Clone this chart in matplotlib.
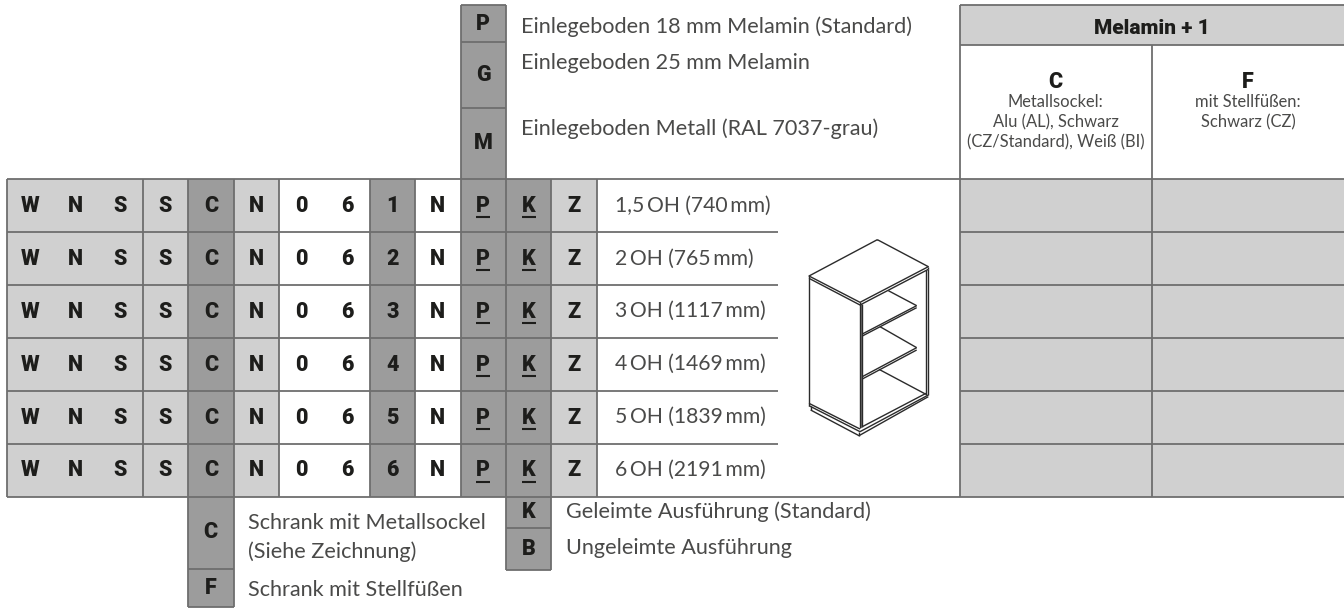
from matplotlib import pyplot as plt
from matplotlib.patches import Rectangle

codes = ['WNSSCN061NPKZ', 'WNSSCN062NPKZ', 'WNSSCN063NPKZ', 'WNSSCN064NPKZ', 'WNSSCN065NPKZ', 'WNSSCN066NPKZ']
heights = ['1,5\u2009OH (740\u2009mm)', '2\u2009OH (765\u2009mm)', '3\u2009OH (1117\u2009mm)',
           '4\u2009OH (1469\u2009mm)', '5\u2009OH (1839\u2009mm)', '6\u2009OH (2191\u2009mm)']
shelves = ['P', 'G', 'M']
shelf_text = ['Einlegeboden 18 mm Melamin (Standard)', 'Einlegeboden 25 mm Melamin', 'Einlegeboden Metall (RAL 7037-grau)']
glue = ['K', 'B']
glue_text = ['Geleimte Ausführung (Standard)', 'Ungeleimte Ausführung']
base = ['C', 'F']
base_text = ['Schrank mit Metallsockel\n(Siehe Zeichnung)', 'Schrank mit Stellfüßen']
header = 'Melamin + 1'
col_c = ['Metallsockel:', 'Alu (AL), Schwarz', '(CZ/Standard), Weiß (BI)']
col_f = ['mit Stellfüßen:', 'Schwarz (CZ)']

LIGHT = '#d0d0d0'
DARK = '#9c9c9c'
LINE = '#6e6e6e'
INK = '#1d1d1b'
BODY = '#4a4a49'
BOLD = dict(family='Roboto', weight='black', color=INK, ha='center', va='center')
THIN = dict(family='Lato', weight='normal', color=BODY, va='center')
LETTER = 15.5
TEXT = 15.6

fig = plt.figure(figsize=(13.44, 6.08), dpi=100)
ax = fig.add_axes([0, 0, 1, 1])
ax.set_xlim(0, 1344)
ax.set_ylim(608, 0)
ax.axis('off')

xs = [7, 52.3, 97.7, 142.7, 188.2, 233.5, 279, 324.5, 369.7, 415, 460.7, 506, 551.3, 596.5]
ys = [179, 232, 285, 337.7, 390.5, 443.5, 496.5]
fills = [LIGHT] * 4 + [DARK, LIGHT, 'white', 'white', DARK, 'white', DARK, DARK, LIGHT]
no_divider = [52.3, 97.7, 324.5]


def box(x0, y0, x1, y1, color):
    ax.add_patch(Rectangle((x0, y0), x1 - x0, y1 - y0, facecolor=color, edgecolor='none', zorder=1))


def line(x, y, lw=1.3, color=LINE):
    ax.plot(x, y, color=color, lw=lw, solid_capstyle='butt', zorder=3)


# code table
for r, code in enumerate(codes):
    for c, ch in enumerate(code):
        box(xs[c], ys[r], xs[c + 1], ys[r + 1], fills[c])
        cx = (xs[c] + xs[c + 1]) / 2
        cy = (ys[r] + ys[r + 1]) / 2
        ax.text(cx, cy + 0.5, ch, fontsize=LETTER, zorder=4, **BOLD)
        if ch in 'PK':
            line([cx - 7, cx + 7], [cy + 11.5, cy + 11.5], lw=1.5, color=INK)
    ax.text(615, (ys[r] + ys[r + 1]) / 2, heights[r], fontsize=15.2, zorder=4, **THIN)

for x in xs:
    if x not in no_divider:
        line([x, x], [ys[0], ys[-1]])
for y in ys[1:-1]:
    line([xs[0], 778], [y, y])
    line([959.5, 1344], [y, y])
line([xs[0], 1344], [ys[0], ys[0]])
line([xs[0], 1344], [ys[-1], ys[-1]])

# shelf options above the table
shelf_y = [5, 42, 107.5, 179]
shelf_ty = [27, 63, 129]
for i, s in enumerate(shelves):
    box(460.7, shelf_y[i], 506, shelf_y[i + 1], DARK)
    line([460.7, 506], [shelf_y[i], shelf_y[i]])
    ax.text(483.3, (shelf_y[i] + shelf_y[i + 1]) / 2, s, fontsize=LETTER, zorder=4, **BOLD)
    ax.text(521, shelf_ty[i], shelf_text[i], fontsize=TEXT, zorder=4, **THIN)
line([460.7, 460.7], [5, 179])
line([506, 506], [5, 179])

# base options below the table
base_y = [496.5, 568.5, 607]
base_ty = [537.5, 590]
for i, s in enumerate(base):
    box(188.2, base_y[i], 233.5, base_y[i + 1], DARK)
    line([188.2, 233.5], [base_y[i + 1], base_y[i + 1]])
    ax.text(210.8, (base_y[i] + base_y[i + 1]) / 2, s, fontsize=LETTER, zorder=4, **BOLD)
    ax.text(248, base_ty[i], base_text[i], fontsize=TEXT, linespacing=1.45, zorder=4, **THIN)
line([188.2, 188.2], [496.5, 607])
line([233.5, 233.5], [496.5, 607])

# glue options below the table
glue_y = [496.5, 527.5, 570]
glue_ty = [512, 548]
for i, s in enumerate(glue):
    box(506, glue_y[i], 551.3, glue_y[i + 1], DARK)
    line([506, 551.3], [glue_y[i + 1], glue_y[i + 1]])
    ax.text(528.6, (glue_y[i] + glue_y[i + 1]) / 2, s, fontsize=LETTER, zorder=4, **BOLD)
    ax.text(566.5, glue_ty[i], glue_text[i], fontsize=TEXT, zorder=4, **THIN)
line([506, 506], [496.5, 570])
line([551.3, 551.3], [496.5, 570])

# right hand table
box(959.5, 5, 1344, 45, LIGHT)
box(959.5, 179, 1344, 496.5, LIGHT)
line([959.5, 1344], [5, 5])
line([959.5, 1344], [45, 45])
line([959.5, 959.5], [5, 496.5])
line([1152, 1152], [45, 496.5])
ax.text(1152, 28, header, fontsize=15, zorder=4, **BOLD)
ax.text(1055.5, 82, 'C', fontsize=LETTER, zorder=4, **BOLD)
ax.text(1248, 82, 'F', fontsize=LETTER, zorder=4, **BOLD)
for i, t in enumerate(col_c):
    ax.text(1055.5, 102 + i * 20, t, fontsize=11.9, ha='center', family='Lato', color=BODY, va='center', zorder=4)
for i, t in enumerate(col_f):
    ax.text(1248, 102 + i * 20, t, fontsize=11.9, ha='center', family='Lato', color=BODY, va='center', zorder=4)

# cabinet drawing, points read in a 3x crop at (780, 225)
cabinet = [
    ([292, 445, 240, 87, 292], [44, 125, 232, 153, 44], 1.0),
    ([87, 240, 445], [160, 240, 133], 1.0),
    ([87, 87], [153, 160], 1.0),
    ([445, 445], [125, 133], 1.0),
    ([88, 88], [160, 535], 1.0),
    ([240, 240], [232, 610], 1.0),
    ([247, 247], [238, 605], 1.0),
    ([438, 438], [135, 510], 1.0),
    ([445, 445], [133, 510], 1.0),
    ([87, 240], [535, 612], 1.0),
    ([87, 240], [542, 620], 1.0),
    ([87, 87], [535, 542], 1.0),
    ([92, 237, 445], [555, 632, 515], 1.0),
    ([92, 92], [542, 555], 1.0),
    ([237, 237], [620, 632], 1.0),
    ([247, 438], [605, 505], 1.0),
    ([240, 445], [620, 510], 1.0),
    ([325, 410], [197, 242], 1.0),
    ([247, 410], [327, 242], 1.0),
    ([247, 410], [333, 248], 1.0),
    ([300, 410], [305, 368], 1.0),
    ([247, 410], [455, 368], 1.0),
    ([247, 410], [462, 375], 1.0),
    ([297, 438], [433, 508], 1.0),
]
for px, py, lw in cabinet:
    line([780 + v / 3 for v in px], [225 + v / 3 for v in py], lw=lw, color='#2b2b2b')
box(780 + 240 / 3, 225 + 236 / 3, 780 + 247 / 3, 225 + 608 / 3, '#777777')

fig.savefig('out.png', dpi=100)
